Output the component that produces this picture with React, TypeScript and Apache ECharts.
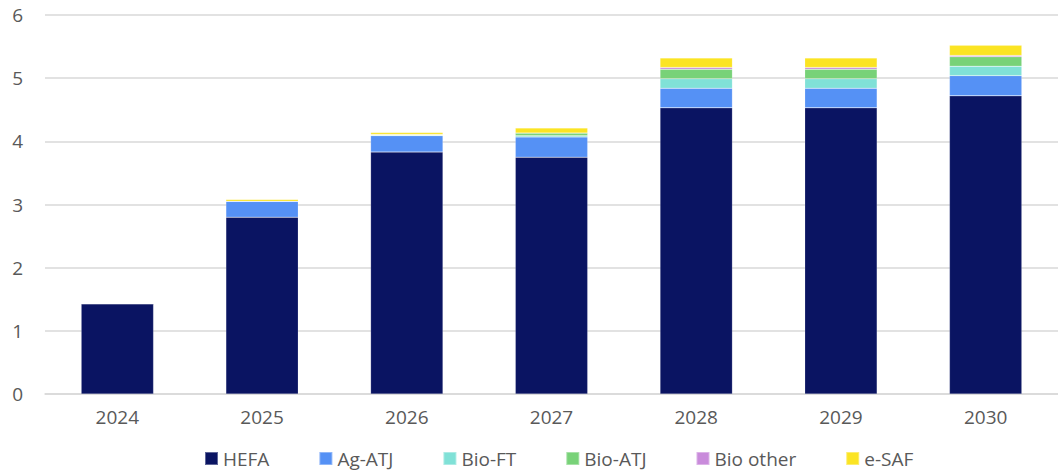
import React, { useEffect, useRef } from "react";
import * as echarts from "echarts";

const years = ["2024", "2025", "2026", "2027", "2028", "2029", "2030"];
const seriesNames = ["HEFA", "Ag-ATJ", "Bio-FT", "Bio-ATJ", "Bio other", "e-SAF"];
const hefa = [1.43, 2.8, 3.83, 3.75, 4.53, 4.53, 4.72];
const agAtj = [0, 0.25, 0.26, 0.32, 0.31, 0.31, 0.32];
const bioFt = [0, 0, 0.01, 0.02, 0.15, 0.15, 0.15];
const bioAtj = [0, 0, 0.01, 0.04, 0.15, 0.15, 0.15];
const bioOther = [0, 0, 0, 0, 0.03, 0.03, 0.02];
const eSaf = [0, 0.03, 0.03, 0.08, 0.15, 0.15, 0.16];
const colors = ["#0a1462", "#5591f5", "#80e1d7", "#78d278", "#c98bdb", "#fbe423"];
const yTicks = [0, 6, 1];

export default function App() {
  const ref = useRef<HTMLDivElement>(null);
  useEffect(() => {
    document.body.style.margin = "0";
    const chart = echarts.init(ref.current!, null, { renderer: "svg" });
    const values = [hefa, agAtj, bioFt, bioAtj, bioOther, eSaf];
    chart.setOption({
      animation: false,
      textStyle: { fontFamily: "Open Sans" },
      grid: { left: 45, right: 0, top: 15, bottom: 82 },
      legend: {
        bottom: 3,
        left: 199,
        icon: "rect",
        itemWidth: 13,
        itemHeight: 13,
        itemGap: 49,
        textStyle: { color: "#595959", fontSize: 19, fontFamily: "Open Sans" },
        data: seriesNames,
      },
      xAxis: {
        type: "category",
        data: years,
        axisLine: { lineStyle: { color: "#d9d9d9", width: 1.5 } },
        axisTick: { show: false },
        axisLabel: { color: "#595959", fontSize: 19, margin: 13 },
      },
      yAxis: {
        type: "value",
        min: yTicks[0],
        max: yTicks[1],
        interval: yTicks[2],
        axisLabel: { color: "#595959", fontSize: 19, margin: 22 },
        splitLine: { lineStyle: { color: "#d9d9d9", width: 1.5 } },
      },
      series: seriesNames.map((name, i) => ({
        name,
        type: "bar",
        stack: "total",
        barWidth: "50%",
        data: values[i],
        itemStyle: { color: colors[i], borderColor: "rgba(255,255,255,0.35)", borderWidth: 0.5 },
      })),
    });
    return () => chart.dispose();
  }, []);
  return <div ref={ref} style={{ width: 1058, height: 476 }} />;
}
